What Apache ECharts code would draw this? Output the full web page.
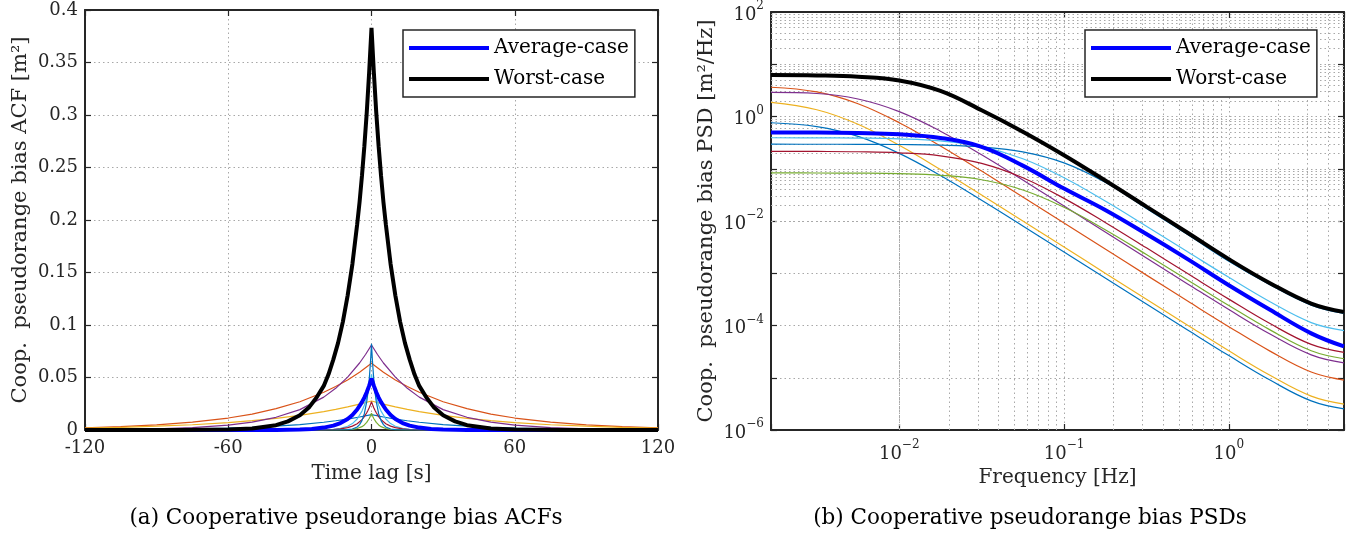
<!DOCTYPE html>
<html>
<head>
<meta charset="utf-8">
<script src="https://cdn.jsdelivr.net/npm/echarts@6/dist/echarts.min.js"></script>
<style>
html,body{margin:0;padding:0;background:#fff;}
#chart{width:1359px;height:533px;}
</style>
</head>
<body>
<div id="chart"></div>
<script>
// ---------------- DATA ----------------
// ACF panel: lag [s] >= 0 and ACF value [m^2]; curves are symmetric in lag.
const acfProc1 = [[0,0.0147],[5,0.0124],[10,0.0104],[15,0.0088],[20,0.0074],[30,0.0052],[40,0.0037],[50,0.0026],[60,0.0019],[75,0.0011],[90,0.00066],[105,0.00039],[120,0.00024]];
const acfProc2 = [[0,0.0635],[5,0.0550],[10,0.0477],[15,0.0414],[20,0.0359],[30,0.0269],[40,0.0203],[50,0.0152],[60,0.0114],[75,0.0075],[90,0.0049],[105,0.0032],[120,0.0021]];
const acfProc3 = [[0,0.0276],[5,0.0246],[10,0.0220],[15,0.0196],[20,0.0175],[30,0.0140],[40,0.0111],[50,0.0089],[60,0.0071],[75,0.0050],[90,0.0036],[105,0.0025],[120,0.0018]];
const acfProc4 = [[0,0.081],[2.5,0.0719],[5,0.0638],[10,0.0503],[15,0.0397],[20,0.0313],[30,0.0194],[40,0.0121],[50,0.0075],[60,0.0047],[75,0.0023],[90,0.0011],[105,0.00055],[120,0.00027]];
const acfProc5 = [[0,0.016],[0.5,0.0131],[1,0.0107],[1.5,0.0088],[2,0.0072],[3,0.0048],[4,0.0032],[6,0.00145],[8,0.00065],[10,0.0003],[15,0.00004],[20,0],[120,0]];
const acfProc6 = [[0,0.053],[0.5,0.0463],[1,0.0404],[1.5,0.0354],[2,0.0309],[3,0.0236],[4,0.0180],[6,0.0105],[8,0.0061],[10,0.0036],[13,0.0016],[16,0.0007],[20,0.00024],[30,0.00002],[120,0]];
const acfProc7 = [[0,0.027],[0.5,0.0238],[1,0.0210],[1.5,0.0186],[2,0.0164],[3,0.0128],[4,0.0099],[6,0.0060],[8,0.0037],[10,0.0022],[13,0.0010],[16,0.0005],[20,0.00018],[30,0.00001],[120,0]];
const acfProc8 = [[0,0.082],[0.25,0.0714],[0.5,0.0621],[1,0.047],[1.5,0.0356],[2,0.027],[3,0.0155],[4,0.0089],[5,0.0051],[6,0.0029],[8,0.00096],[10,0.0003],[15,0.00001],[120,0]];
const acfAverage = [[0,0.049],[0.5,0.0455],[1,0.042],[2,0.036],[3,0.0309],[4,0.0265],[6,0.0195],[8,0.0143],[10,0.0105],[13,0.0066],[16,0.0042],[20,0.0023],[25,0.00105],[30,0.00048],[40,0.0001],[50,0.00002],[60,0],[120,0]];
const acfWorst = [[0,0.383],[1,0.34],[2,0.302],[3,0.27],[4,0.242],[5,0.217],[6,0.196],[8,0.158],[10,0.128],[12,0.103],[14,0.083],[16,0.067],[18,0.053],[20,0.042],[23,0.031],[26,0.022],[30,0.014],[35,0.0082],[40,0.0046],[50,0.0015],[60,0.0005],[80,0.00005],[100,0.00001],[120,0]];

// PSD panel: frequency [Hz] and log10 of the PSD [m^2/Hz] read on the log axis.
const freqHz = [0.001667, 0.003162, 0.005623, 0.01, 0.01778, 0.03162, 0.05623, 0.1, 0.1778, 0.3162, 0.5623, 1, 1.778, 3.162, 5];
const psdExpProc1 = [-0.12, -0.194, -0.381, -0.705, -1.129, -1.603, -2.094, -2.592, -3.091, -3.589, -4.085, -4.576, -5.044, -5.443, -5.596];
const psdExpProc2 = [0.56, 0.47, 0.245, -0.118, -0.564, -1.045, -1.540, -2.037, -2.537, -3.036, -3.532, -4.022, -4.490, -4.890, -5.043];
const psdExpProc3 = [0.27, 0.13, -0.148, -0.551, -1.015, -1.504, -2.000, -2.498, -2.998, -3.497, -3.993, -4.484, -4.952, -5.351, -5.504];
const psdExpProc4 = [0.46, 0.44, 0.335, 0.094, -0.281, -0.733, -1.217, -1.712, -2.210, -2.708, -3.204, -3.695, -4.163, -4.562, -4.715];
const psdExpProc5 = [-1.079, -1.081, -1.084, -1.094, -1.125, -1.211, -1.406, -1.737, -2.166, -2.641, -3.129, -3.617, -4.084, -4.483, -4.636];
const psdExpProc6 = [-0.407, -0.408, -0.413, -0.427, -0.468, -0.577, -0.809, -1.172, -1.618, -2.099, -2.589, -3.078, -3.545, -3.944, -4.097];
const psdExpProc7 = [-0.667, -0.669, -0.675, -0.695, -0.752, -0.896, -1.171, -1.567, -2.028, -2.514, -3.006, -3.495, -3.963, -4.362, -4.515];
const psdExpProc8 = [-0.530, -0.531, -0.532, -0.536, -0.547, -0.582, -0.678, -0.888, -1.26, -1.76, -2.26, -2.77, -3.22, -3.61, -3.77];
const psdExpAverage = [-0.305, -0.306, -0.315, -0.34, -0.41, -0.58, -0.94, -1.38, -1.79, -2.25, -2.73, -3.23, -3.70, -4.15, -4.40];
const psdExpWorst = [0.794, 0.787, 0.762, 0.69, 0.49, 0.12, -0.29, -0.74, -1.225, -1.725, -2.225, -2.73, -3.19, -3.58, -3.74];

// Tick labels
const lagTicks = [-120, -60, 0, 60, 120];
const acfTicks = [0, 0.05, 0.1, 0.15, 0.2, 0.25, 0.3, 0.35, 0.4];
const freqRange = [1/600, 5];
const psdRange = [1e-6, 1e2];

// Labels
const legendNames = ['Average-case', 'Worst-case'];
const captionA = '(a) Cooperative pseudorange bias ACFs';
const captionB = '(b) Cooperative pseudorange bias PSDs';

// ---------------- BUILD ----------------
const FONT = 'DejaVu Serif';
const INK = '#262626';
const GRIDC = '#a8a8a8';

function mirror(half) {
  const neg = half.filter(p => p[0] > 0).map(p => [-p[0], p[1]]).reverse();
  return neg.concat(half);
}
function psdPairs(exps) { return freqHz.map((f, i) => [f, Math.pow(10, exps[i])]); }

const procs = [
  {c:'#0072BD', acf:acfProc1, psd:psdExpProc1},
  {c:'#D95319', acf:acfProc2, psd:psdExpProc2},
  {c:'#EDB120', acf:acfProc3, psd:psdExpProc3},
  {c:'#7E2F8E', acf:acfProc4, psd:psdExpProc4},
  {c:'#77AC30', acf:acfProc5, psd:psdExpProc5},
  {c:'#4DBEEE', acf:acfProc6, psd:psdExpProc6},
  {c:'#A2142F', acf:acfProc7, psd:psdExpProc7},
  {c:'#0072BD', acf:acfProc8, psd:psdExpProc8}
];

const series = [];
procs.forEach((p, i) => {
  series.push({name:'Process ' + (i+1), type:'line', xAxisIndex:0, yAxisIndex:0, data:mirror(p.acf),
    showSymbol:false, lineStyle:{color:p.c, width:1.2}, itemStyle:{color:p.c}, z:3});
});
series.push({name:legendNames[0], type:'line', xAxisIndex:0, yAxisIndex:0, data:mirror(acfAverage),
  showSymbol:false, lineStyle:{color:'#0000FF', width:4}, itemStyle:{color:'#0000FF'}, z:4});
series.push({name:legendNames[1], type:'line', xAxisIndex:0, yAxisIndex:0, data:mirror(acfWorst),
  showSymbol:false, lineStyle:{color:'#000000', width:4}, itemStyle:{color:'#000000'}, z:5});

// minor grid lines for the log panel (2..9 times each decade)
const minorX = [];
for (let k = -3; k <= 0; k++) for (let m = 2; m <= 9; m++) {
  const v = m * Math.pow(10, k);
  if (v > freqRange[0] && v < freqRange[1]) minorX.push(v);
}
const minorY = [];
for (let k = -6; k <= 1; k++) for (let m = 2; m <= 9; m++) minorY.push(m * Math.pow(10, k));
series.push({name:'grid', type:'line', xAxisIndex:2, yAxisIndex:2, data:[], silent:true, z:1,
  markLine:{silent:true, z:1, zlevel:0, symbol:['none','none'], animation:false, label:{show:false},
    lineStyle:{color:GRIDC, type:[1.5,3], width:1},
    emphasis:{disabled:true},
    data: minorX.map(v => ({xAxis:v})).concat(minorY.map(v => ({yAxis:v})))}});

procs.forEach((p, i) => {
  series.push({name:'Process ' + (i+1), type:'line', xAxisIndex:2, yAxisIndex:2, data:psdPairs(p.psd),
    smooth:0.4, showSymbol:false, lineStyle:{color:p.c, width:1.2}, itemStyle:{color:p.c}, z:3});
});
series.push({name:legendNames[0], type:'line', xAxisIndex:2, yAxisIndex:2, data:psdPairs(psdExpAverage),
  smooth:0.4, showSymbol:false, lineStyle:{color:'#0000FF', width:4}, itemStyle:{color:'#0000FF'}, z:4});
series.push({name:legendNames[1], type:'line', xAxisIndex:2, yAxisIndex:2, data:psdPairs(psdExpWorst),
  smooth:0.4, showSymbol:false, lineStyle:{color:'#000000', width:4}, itemStyle:{color:'#000000'}, z:5});

const axisLine = {show:true, onZero:false, lineStyle:{color:INK, width:2}};
const tick = {show:true, inside:true, length:6, lineStyle:{color:INK, width:1.2}};
const dotted = {show:true, lineStyle:{color:GRIDC, type:[1.5,3], width:1}};
const labelStyle = {color:INK, fontFamily:FONT, fontSize:18};

function logLabel(v, evenOnly) {
  const l = Math.log10(v);
  const e = Math.round(l);
  if (Math.abs(l - e) > 1e-6) return '';
  if (evenOnly && e % 2 !== 0) return '';
  return '{b|10}{s|' + (e < 0 ? '\u2212' + (-e) : e) + '}';
}
const logRich = {
  b:{fontFamily:FONT, fontSize:18, color:INK, lineHeight:24, verticalAlign:'bottom'},
  s:{fontFamily:FONT, fontSize:12, color:INK, lineHeight:12, verticalAlign:'top'}
};

const legendBase = {data:legendNames, top:30, orient:'vertical', icon:'rect', itemWidth:80, itemHeight:4,
  itemGap:11, padding:[8,6,8,6], backgroundColor:'#fff', borderColor:INK, borderWidth:1.5, z:20,
  textStyle:{fontFamily:FONT, fontSize:20, color:'#000'}, selectedMode:false};

const option = {
  animation:false,
  backgroundColor:'#fff',
  grid:[
    {left:85, top:10, width:573, height:420},
    {left:771, top:10, width:573, height:420}
  ],
  xAxis:[
    {gridIndex:0, type:'value', min:lagTicks[0], max:lagTicks[lagTicks.length-1], interval:60,
      axisLine, axisTick:tick, splitLine:dotted,
      axisLabel:Object.assign({margin:9}, labelStyle),
      name:'Time lag [s]', nameLocation:'middle', nameGap:34,
      nameTextStyle:{fontFamily:FONT, fontSize:20, color:INK}},
    {gridIndex:0, type:'value', position:'top', min:lagTicks[0], max:lagTicks[lagTicks.length-1], interval:60,
      axisLine, axisTick:tick, splitLine:{show:false}, axisLabel:{show:false}},
    {gridIndex:1, type:'log', logBase:10, min:freqRange[0], max:freqRange[1],
      axisLine, axisTick:tick, splitLine:dotted,
      axisLabel:{margin:9, formatter:v => logLabel(v, false), rich:logRich},
      name:'Frequency [Hz]', nameLocation:'middle', nameGap:34,
      nameTextStyle:{fontFamily:FONT, fontSize:20, color:INK}},
    {gridIndex:1, type:'log', logBase:10, position:'top', min:freqRange[0], max:freqRange[1],
      axisLine, axisTick:tick, splitLine:{show:false}, axisLabel:{show:false}}
  ],
  yAxis:[
    {gridIndex:0, type:'value', min:acfTicks[0], max:acfTicks[acfTicks.length-1], interval:0.05,
      axisLine, axisTick:tick, splitLine:dotted,
      axisLabel:Object.assign({margin:7}, labelStyle),
      name:'Coop.  pseudorange bias ACF [m\u00B2]', nameLocation:'middle', nameGap:54,
      nameTextStyle:{fontFamily:FONT, fontSize:21, color:INK}},
    {gridIndex:0, type:'value', position:'right', min:acfTicks[0], max:acfTicks[acfTicks.length-1], interval:0.05,
      axisLine, axisTick:tick, splitLine:{show:false}, axisLabel:{show:false}},
    {gridIndex:1, type:'log', logBase:10, min:psdRange[0], max:psdRange[1],
      axisLine, axisTick:tick, splitLine:dotted,
      axisLabel:{margin:7, formatter:v => logLabel(v, true), rich:logRich},
      name:'Coop.  pseudorange bias PSD [m\u00B2/Hz]', nameLocation:'middle', nameGap:54,
      nameTextStyle:{fontFamily:FONT, fontSize:21, color:INK}},
    {gridIndex:1, type:'log', logBase:10, position:'right', min:psdRange[0], max:psdRange[1],
      axisLine, axisTick:tick, splitLine:{show:false}, axisLabel:{show:false}}
  ],
  legend:[
    Object.assign({left:403}, legendBase),
    Object.assign({left:1085}, legendBase)
  ],
  graphic:[
    {type:'text', x:346, y:518, style:{text:captionA, fontFamily:FONT, fontSize:21.5, fill:'#000', textAlign:'center', textVerticalAlign:'middle'}},
    {type:'text', x:1030, y:518, style:{text:captionB, fontFamily:FONT, fontSize:21.5, fill:'#000', textAlign:'center', textVerticalAlign:'middle'}}
  ],
  series
};

const chart = echarts.init(document.getElementById('chart'), null, {renderer:'canvas'});
chart.setOption(option);
</script>
</body>
</html>
